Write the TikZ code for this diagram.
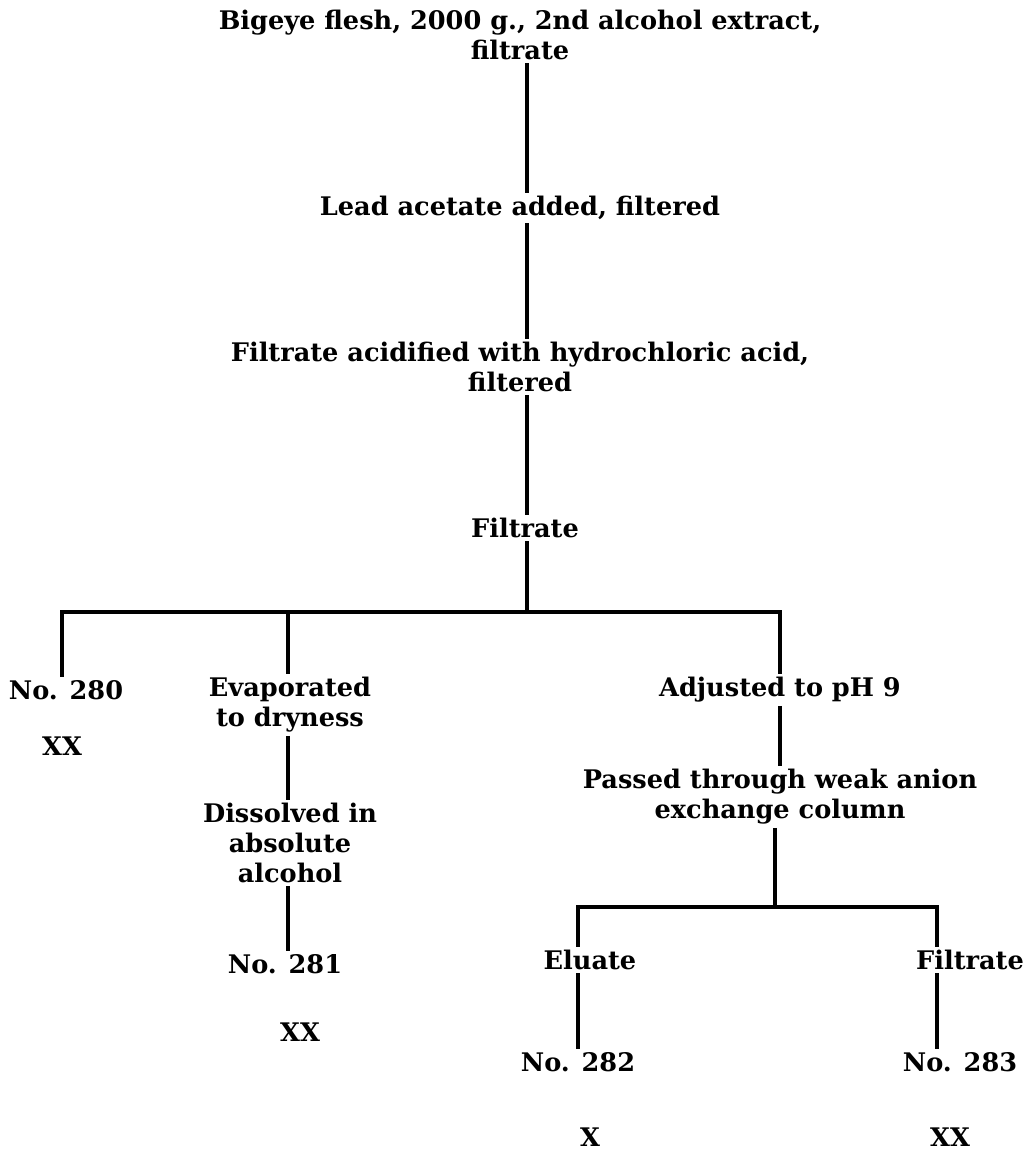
\documentclass[tikz,border=0pt]{standalone}
\usepackage{fontspec}
\setmainfont{DejaVu Serif}
\begin{document}
\begin{tikzpicture}[x=0.5pt, y=-0.5pt,
	stage/.style = {align=center, inner sep=1.5pt, font=\fontsize{12.8}{15}\selectfont\bfseries},
	link/.style = {line width=1.7pt}]
			\useasboundingbox (0,0) rectangle (1034,1160);

			\node[stage] (1) at (520,35) {Bigeye flesh, 2000 g., 2nd alcohol extract,\\filtrate};
			\node[stage] (2) at (520,208) {Lead acetate added, filtered};
			\node[stage] (3) at (520,367) {Filtrate acidified with hydrochloric acid,\\filtered};
			\node[stage] (4) at (525,528) {Filtrate};
			\coordinate (j1) at (527,612);

			\node[stage] (5) at (66,690) {No. 280};
			\node[stage] (6) at (62,746) {XX};
			\node[stage] (7) at (290,705) {Evaporated\\to dryness};
			\node[stage] (8) at (290,843) {Dissolved in\\absolute\\alcohol};
			\node[stage] (9) at (285,964) {No. 281};
			\node[stage] (10) at (300,1032) {XX};
			\node[stage] (11) at (780,690) {Adjusted to pH 9};
			\node[stage] (12) at (780,797) {Passed through weak anion\\exchange column};
			\coordinate (j2) at (775,907);

			\node[stage] (13) at (590,960) {Eluate};
			\node[stage] (14) at (578,1062) {No. 282};
			\node[stage] (15) at (590,1137) {X};
			\node[stage] (16) at (970,960) {Filtrate};
			\node[stage] (17) at (960,1062) {No. 283};
			\node[stage] (18) at (950,1137) {XX};

			\coordinate (d1) at (62,612);
			\coordinate (d2) at (288,612);
			\coordinate (d3) at (780,612);
			\coordinate (e1) at (578,907);
			\coordinate (e2) at (937,907);

			\draw[link] (1.south -| j1) -- (2.north -| j1);
			\draw[link] (2.south -| j1) -- (3.north -| j1);
			\draw[link] (3.south -| j1) -- (4.north -| j1);
			\draw[link] (4.south -| j1) -- (j1);
			\draw[link] (5.north -| d1) -- (d1) -- (d3) -- (11.north -| d3);
			\draw[link] (d2) -- (7.north -| d2);
			\draw[link] (7.south -| d2) -- (8.north -| d2);
			\draw[link] (8.south -| d2) -- (9.north -| d2);
			\draw[link] (11.south -| d3) -- (12.north -| d3);
			\draw[link] (12.south -| j2) -- (j2);
			\draw[link] (13.north -| e1) -- (e1) -- (e2) -- (16.north -| e2);
			\draw[link] (13.south -| e1) -- (14.north -| e1);
			\draw[link] (16.south -| e2) -- (17.north -| e2);
		\end{tikzpicture}
\end{document}
